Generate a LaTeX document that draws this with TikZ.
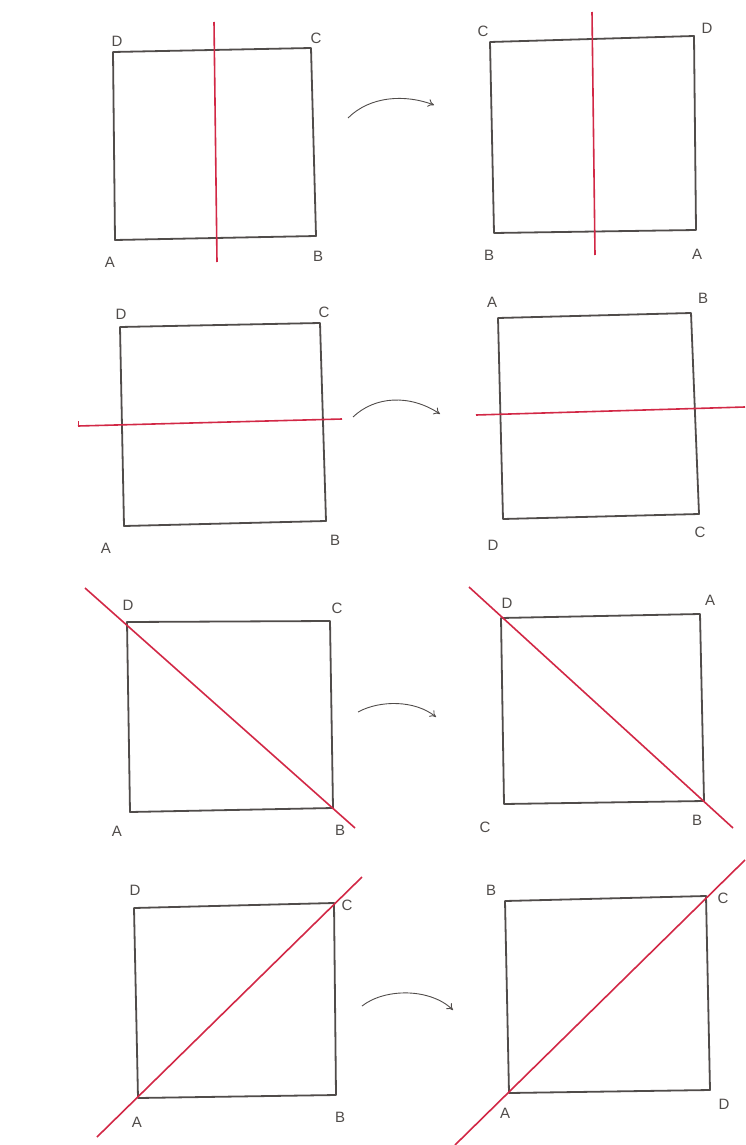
\documentclass[tikz,border=0pt]{standalone}
\usepackage{fontspec}
\setmainfont{Liberation Sans}
\usetikzlibrary{arrows.meta}
\definecolor{pencil}{RGB}{80,76,74}
\definecolor{redline}{RGB}{210,40,70}
\tikzset{
  sq/.style={draw=pencil, line width=1.8pt, line join=round},
  mirror/.style={draw=redline, line width=1.6pt},
  lab/.style={font=\fontsize{15}{15}\selectfont, text=pencil, inner sep=0pt},
  turn/.style={draw=pencil, line width=0.9pt, -{To[length=6pt,width=8pt]}},
}
\begin{document}
\begin{tikzpicture}[x=1pt,y=-1pt]
\useasboundingbox (0,0) rectangle (745,1145);
\fill[white] (0,0) rectangle (745,1145);

% ---------- Row 1 ----------
\coordinate (a1A) at (115,240); \coordinate (a1B) at (316,236);
\coordinate (a1C) at (311,48);  \coordinate (a1D) at (113,52);
\draw[sq] (a1A) -- (a1B) -- (a1C) -- (a1D) -- cycle;
\coordinate (m1s) at (214,22); \coordinate (m1e) at (217,262);
\draw[mirror] (m1s) -- (m1e);
\node[lab] (l1D) at (117,41) {D};
\node[lab] (l1C) at (316,38) {C};
\node[lab] (l1A) at (110,262) {A};
\node[lab] (l1B) at (318,256) {B};

\coordinate (t1s) at (348,118); \coordinate (t1e) at (434,105);
\draw[turn] (t1s) .. controls (370,96) and (405,94) .. (t1e);

\coordinate (b1C) at (490,42);  \coordinate (b1D) at (694,36);
\coordinate (b1A) at (696,230); \coordinate (b1B) at (494,233);
\draw[sq] (b1C) -- (b1D) -- (b1A) -- (b1B) -- cycle;
\coordinate (n1s) at (592,12); \coordinate (n1e) at (595,255);
\draw[mirror] (n1s) -- (n1e);
\node[lab] (r1C) at (483,31) {C};
\node[lab] (r1D) at (707,28) {D};
\node[lab] (r1B) at (489,255) {B};
\node[lab] (r1A) at (697,254) {A};

% ---------- Row 2 ----------
\coordinate (a2D) at (120,327); \coordinate (a2C) at (320,323);
\coordinate (a2B) at (326,521); \coordinate (a2A) at (124,526);
\draw[sq] (a2D) -- (a2C) -- (a2B) -- (a2A) -- cycle;
\coordinate (m2s) at (78,426); \coordinate (m2e) at (342,419);
\draw[mirror] (m2s) -- (m2e);
\draw[mirror, line width=0.8pt] (m2s) -- ++(0,-5);
\node[lab] (l2D) at (121,314) {D};
\node[lab] (l2C) at (324,312) {C};
\node[lab] (l2A) at (106,548) {A};
\node[lab] (l2B) at (335,540) {B};

\coordinate (t2s) at (353,417); \coordinate (t2e) at (440,414);
\draw[turn] (t2s) .. controls (375,396) and (410,394) .. (t2e);

\coordinate (b2A) at (498,318); \coordinate (b2B) at (691,313);
\coordinate (b2C) at (699,514); \coordinate (b2D) at (503,519);
\draw[sq] (b2A) -- (b2B) -- (b2C) -- (b2D) -- cycle;
\coordinate (n2s) at (476,415); \coordinate (n2e) at (745,407);
\draw[mirror] (n2s) -- (n2e);
\node[lab] (r2A) at (492,302) {A};
\node[lab] (r2B) at (703,298) {B};
\node[lab] (r2D) at (493,545) {D};
\node[lab] (r2C) at (700,532) {C};

% ---------- Row 3 ----------
\coordinate (a3D) at (127,622); \coordinate (a3C) at (330,621);
\coordinate (a3B) at (333,808); \coordinate (a3A) at (130,812);
\draw[sq] (a3D) -- (a3C) -- (a3B) -- (a3A) -- cycle;
\coordinate (m3s) at (85,588); \coordinate (m3e) at (355,828);
\draw[mirror] (m3s) -- (m3e);
\node[lab] (l3D) at (128,605) {D};
\node[lab] (l3C) at (337,608) {C};
\node[lab] (l3A) at (117,831) {A};
\node[lab] (l3B) at (340,830) {B};

\coordinate (t3s) at (358,712); \coordinate (t3e) at (436,717);
\draw[turn] (t3s) .. controls (380,700) and (415,700) .. (t3e);

\coordinate (b3D) at (501,618); \coordinate (b3A) at (700,614);
\coordinate (b3B) at (704,801); \coordinate (b3C) at (504,804);
\draw[sq] (b3D) -- (b3A) -- (b3B) -- (b3C) -- cycle;
\coordinate (n3s) at (469,587); \coordinate (n3e) at (733,828);
\draw[mirror] (n3s) -- (n3e);
\node[lab] (r3D) at (507,603) {D};
\node[lab] (r3A) at (710,600) {A};
\node[lab] (r3C) at (485,827) {C};
\node[lab] (r3B) at (697,820) {B};

% ---------- Row 4 ----------
\coordinate (a4D) at (134,908); \coordinate (a4C) at (334,903);
\coordinate (a4B) at (336,1095); \coordinate (a4A) at (138,1098);
\draw[sq] (a4D) -- (a4C) -- (a4B) -- (a4A) -- cycle;
\coordinate (m4s) at (97,1137); \coordinate (m4e) at (362,877);
\draw[mirror] (m4s) -- (m4e);
\node[lab] (l4D) at (135,890) {D};
\node[lab] (l4C) at (347,905) {C};
\node[lab] (l4A) at (137,1122) {A};
\node[lab] (l4B) at (340,1117) {B};

\coordinate (t4s) at (362,1006); \coordinate (t4e) at (453,1010);
\draw[turn] (t4s) .. controls (385,988) and (430,988) .. (t4e);

\coordinate (b4B) at (505,901); \coordinate (b4C) at (706,896);
\coordinate (b4D) at (710,1090); \coordinate (b4A) at (509,1093);
\draw[sq] (b4B) -- (b4C) -- (b4D) -- (b4A) -- cycle;
\coordinate (n4s) at (455,1145); \coordinate (n4e) at (745,860);
\draw[mirror] (n4s) -- (n4e);
\node[lab] (r4B) at (491,890) {B};
\node[lab] (r4C) at (723,898) {C};
\node[lab] (r4A) at (505,1113) {A};
\node[lab] (r4D) at (724,1104) {D};
\end{tikzpicture}
\end{document}
